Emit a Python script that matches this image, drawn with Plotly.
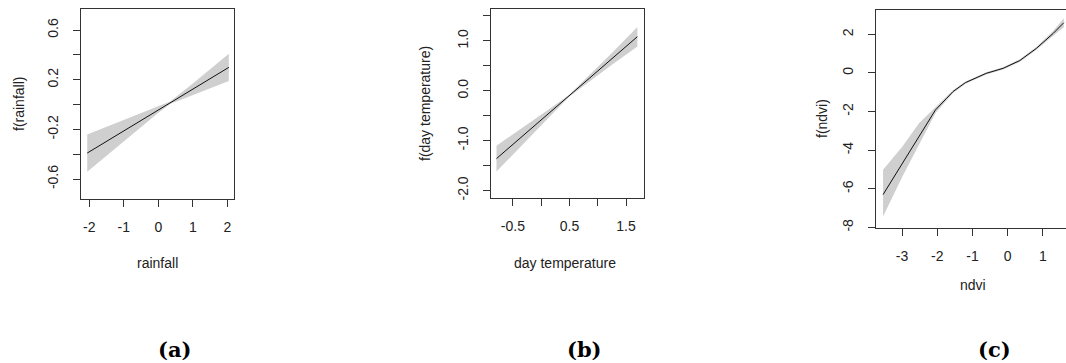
import plotly.graph_objects as go

W, H = 1066, 363

# ---------------- data ----------------
# (a) rainfall
xa = [-2.06, -1.0, 0.0, 0.34, 1.0, 2.04]
fa = [-0.39, -0.21, -0.04, 0.015, 0.125, 0.30]
lo_a = [-0.54, -0.295, -0.065, 0.005, 0.08, 0.19]
hi_a = [-0.24, -0.125, -0.015, 0.025, 0.17, 0.41]

# (b) day temperature
xb = [-0.79, -0.25, 0.25, 0.5, 0.75, 1.25, 1.70]
fb = [-1.36, -0.83, -0.339, -0.093, 0.152, 0.643, 1.085]
lo_b = [-1.62, -0.98, -0.40, -0.113, 0.10, 0.52, 0.89]
hi_b = [-1.10, -0.68, -0.28, -0.073, 0.20, 0.76, 1.28]

# (c) ndvi
xc = [-3.54, -2.99, -2.52, -2.05, -1.75, -1.55, -1.2, -0.9, -0.61, -0.13, 0.34, 0.81, 1.29, 1.59]
fc = [-6.30, -4.67, -3.29, -1.91, -1.34, -0.96, -0.50, -0.24, -0.02, 0.24, 0.64, 1.27, 2.05, 2.60]
lo_c = [-7.43, -5.36, -3.72, -2.08, -1.44, -1.04, -0.56, -0.30, -0.08, 0.18, 0.57, 1.19, 1.93, 2.37]
hi_c = [-5.01, -3.81, -2.60, -1.74, -1.24, -0.88, -0.44, -0.18, 0.04, 0.30, 0.71, 1.35, 2.17, 2.83]

# ticks
xticks_a = [-2, -1, 0, 1, 2]
xtext_a = ["-2", "-1", "0", "1", "2"]
yticks_a = [-0.6, -0.4, -0.2, 0.0, 0.2, 0.4, 0.6]
ytext_a = ["-0.6", "", "-0.2", "", "0.2", "", "0.6"]

xticks_b = [-0.5, 0.0, 0.5, 1.0, 1.5]
xtext_b = ["-0.5", "", "0.5", "", "1.5"]
yticks_b = [-2.0, -1.5, -1.0, -0.5, 0.0, 0.5, 1.0, 1.5]
ytext_b = ["-2.0", "", "-1.0", "", "0.0", "", "1.0", ""]

xticks_c = [-3, -2, -1, 0, 1]
xtext_c = ["-3", "-2", "-1", "0", "1"]
yticks_c = [-8, -6, -4, -2, 0, 2]
ytext_c = ["-8", "-6", "-4", "-2", "0", "2"]

panels = [
    dict(x=xa, f=fa, lo=lo_a, hi=hi_a, xt=xticks_a, xtt=xtext_a, yt=yticks_a, ytt=ytext_a,
         xr=[-2.24, 2.19], yr=[-0.76, 0.77], box=(81, 234, 9, 199), full=True,
         xtitle="rainfall", ytitle="f(rainfall)", xtp=(157, 263), ytp=(19, 104),
         label="(a)", lp=(174, 349)),
    dict(x=xb, f=fb, lo=lo_b, hi=hi_b, xt=xticks_b, xtt=xtext_b, yt=yticks_b, ytt=ytext_b,
         xr=[-0.887, 1.817], yr=[-2.15, 1.64], box=(491, 644, 9, 198), full=True,
         xtitle="day temperature", ytitle="f(day temperature)", xtp=(565, 263), ytp=(425, 104),
         label="(b)", lp=(584, 349)),
    dict(x=xc, f=fc, lo=lo_c, hi=hi_c, xt=xticks_c, xtt=xtext_c, yt=yticks_c, ytt=ytext_c,
         xr=[-3.74, 1.653], yr=[-8.03, 3.26], box=(876, 1066, 10, 228), full=False,
         xtitle="ndvi", ytitle="f(ndvi)", xtp=(973, 285), ytp=(822, 119),
         label="(c)", lp=(994, 349)),
]

fig = go.Figure()
annotations = []
FONT = "Liberation Sans, Arial, sans-serif"
TXT = "#222222"
LINE = "#333333"

for i, p in enumerate(panels, start=1):
    xs = "x" if i == 1 else f"x{i}"
    ys = "y" if i == 1 else f"y{i}"
    # confidence band
    fig.add_trace(go.Scatter(x=p["x"] + p["x"][::-1], y=p["hi"] + p["lo"][::-1],
                             fill="toself", fillcolor="#cfcfcf", line=dict(width=0),
                             mode="lines", hoverinfo="skip", showlegend=False,
                             xaxis=xs, yaxis=ys))
    fig.add_trace(go.Scatter(x=p["x"], y=p["f"], mode="lines",
                             line=dict(color="#111111", width=1),
                             showlegend=False, xaxis=xs, yaxis=ys))
    l, r, t, b = p["box"]
    xdom = [l / W, r / W]
    ydom = [(H - b) / H, (H - t) / H]
    xkey = "xaxis" if i == 1 else f"xaxis{i}"
    ykey = "yaxis" if i == 1 else f"yaxis{i}"
    fig.update_layout(**{
        xkey: dict(domain=xdom, range=p["xr"], anchor=ys, tickmode="array", automargin=False,
                   tickvals=p["xt"], ticktext=p["xtt"], ticks="outside", ticklen=7,
                   tickwidth=1, tickcolor=LINE, showline=True, linecolor=LINE, linewidth=1,
                   mirror=True, showgrid=False, zeroline=False,
                   tickfont=dict(family=FONT, size=14, color=TXT), ticklabelstandoff=8),
        ykey: dict(domain=ydom, range=p["yr"], anchor=xs, tickmode="array", automargin=False,
                   tickvals=p["yt"], ticktext=p["ytt"], ticks="outside", ticklen=7,
                   tickwidth=1, tickcolor=LINE, showline=True, linecolor=LINE, linewidth=1,
                   mirror=p["full"], showgrid=False, zeroline=False, tickangle=-90,
                   tickfont=dict(family=FONT, size=14, color=TXT), ticklabelstandoff=9),
    })
    annotations.append(dict(x=p["xtp"][0] / W, y=(H - p["xtp"][1]) / H, xref="paper", yref="paper",
                            text=p["xtitle"], showarrow=False, xanchor="center", yanchor="middle",
                            font=dict(family=FONT, size=14, color=TXT)))
    annotations.append(dict(x=p["ytp"][0] / W, y=(H - p["ytp"][1]) / H, xref="paper", yref="paper",
                            text=p["ytitle"], showarrow=False, xanchor="center", yanchor="middle",
                            textangle=-90, font=dict(family=FONT, size=14, color=TXT)))
    annotations.append(dict(x=p["lp"][0] / W, y=(H - p["lp"][1]) / H, xref="paper", yref="paper",
                            text="<b>" + p["label"] + "</b>", showarrow=False,
                            xanchor="center", yanchor="middle",
                            font=dict(family="DejaVu Serif, serif", size=21, color="#000000")))

fig.update_layout(width=W, height=H, margin=dict(l=0, r=0, t=0, b=0, autoexpand=False),
                  template="none", paper_bgcolor="white", plot_bgcolor="white",
                  annotations=annotations, showlegend=False)

fig.write_html("out.html", config={"displayModeBar": False, "staticPlot": True},
               post_script="document.body.style.margin='0px';document.body.style.overflow='hidden';")
